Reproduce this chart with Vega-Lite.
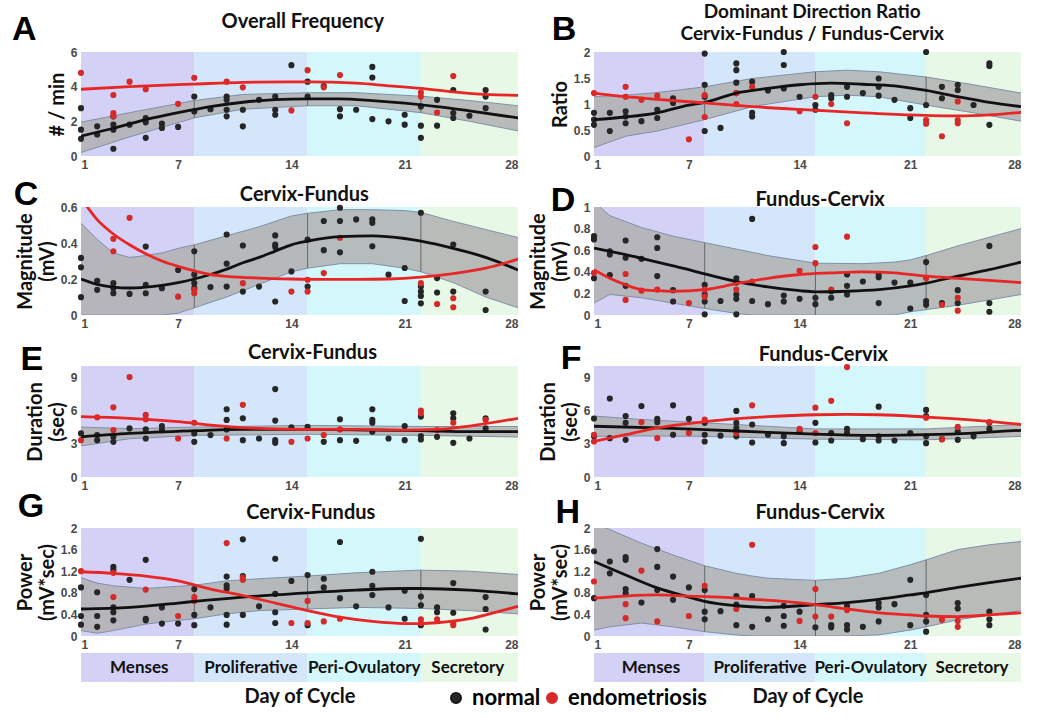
{
"$schema":"https://vega.github.io/schema/vega-lite/v6.json",
"background":"white",
"padding":{"left":12,"top":3,"right":5,"bottom":5},
"bounds":"flush",
"columns":2,
"spacing":{"row":51,"column":76},
"datasets":{
"phases":[
{"phase":"Menses","d":1,"e":8,"m":4.6},
{"phase":"Proliferative","d":8,"e":15,"m":11.5},
{"phase":"Peri-Ovulatory","d":15,"e":22,"m":18.5},
{"phase":"Secretory","d":22,"e":28,"m":24.9}
],
"band":[
{"p":"A","d":1,"lo":0.2,"hi":1.95},{"p":"A","d":4,"lo":1.1,"hi":2.5},{"p":"A","d":8,"lo":2.2,"hi":3.2},{"p":"A","d":11,"lo":2.7,"hi":3.55},{"p":"A","d":15,"lo":2.9,"hi":3.65},{"p":"A","d":18,"lo":2.9,"hi":3.65},{"p":"A","d":22,"lo":2.5,"hi":3.45},{"p":"A","d":25,"lo":2.0,"hi":3.2},{"p":"A","d":28,"lo":1.45,"hi":2.9},
{"p":"B","d":1,"lo":0.16,"hi":1.14},{"p":"B","d":3,"lo":0.38,"hi":1.17},{"p":"B","d":5,"lo":0.48,"hi":1.22},{"p":"B","d":8,"lo":0.7,"hi":1.33},{"p":"B","d":11,"lo":0.95,"hi":1.49},{"p":"B","d":15,"lo":1.14,"hi":1.62},{"p":"B","d":17,"lo":1.17,"hi":1.65},{"p":"B","d":19,"lo":1.14,"hi":1.62},{"p":"B","d":22,"lo":0.98,"hi":1.52},{"p":"B","d":25,"lo":0.83,"hi":1.37},{"p":"B","d":28,"lo":0.67,"hi":1.21},
{"p":"C","d":1,"lo":0,"hi":0.51},{"p":"C","d":2,"lo":0,"hi":0.42},{"p":"C","d":3,"lo":0,"hi":0.345},{"p":"C","d":4,"lo":0,"hi":0.32},{"p":"C","d":5,"lo":0,"hi":0.33},{"p":"C","d":6,"lo":0,"hi":0.345},{"p":"C","d":7,"lo":0.01,"hi":0.37},{"p":"C","d":8,"lo":0.04,"hi":0.39},{"p":"C","d":10,"lo":0.1,"hi":0.44},{"p":"C","d":12,"lo":0.17,"hi":0.49},{"p":"C","d":14,"lo":0.24,"hi":0.55},{"p":"C","d":15,"lo":0.26,"hi":0.565},{"p":"C","d":17,"lo":0.285,"hi":0.585},{"p":"C","d":19,"lo":0.285,"hi":0.585},{"p":"C","d":21,"lo":0.26,"hi":0.58},{"p":"C","d":22,"lo":0.24,"hi":0.57},{"p":"C","d":24,"lo":0.18,"hi":0.52},{"p":"C","d":26,"lo":0.1,"hi":0.475},{"p":"C","d":28,"lo":0.04,"hi":0.43},
{"p":"D","d":1,"lo":0.11,"hi":1.05},{"p":"D","d":2,"lo":0.19,"hi":0.92},{"p":"D","d":4,"lo":0.16,"hi":0.81},{"p":"D","d":6,"lo":0.11,"hi":0.73},{"p":"D","d":8,"lo":0.06,"hi":0.67},{"p":"D","d":10,"lo":0.015,"hi":0.61},{"p":"D","d":11,"lo":0,"hi":0.58},{"p":"D","d":12,"lo":0,"hi":0.55},{"p":"D","d":15,"lo":0,"hi":0.48},{"p":"D","d":18,"lo":0,"hi":0.475},{"p":"D","d":20,"lo":0,"hi":0.49},{"p":"D","d":21,"lo":0.03,"hi":0.51},{"p":"D","d":22,"lo":0.05,"hi":0.55},{"p":"D","d":24,"lo":0.09,"hi":0.64},{"p":"D","d":26,"lo":0.14,"hi":0.72},{"p":"D","d":28,"lo":0.19,"hi":0.8},
{"p":"E","d":1,"lo":2.8,"hi":4.5},{"p":"E","d":4,"lo":3.45,"hi":4.35},{"p":"E","d":8,"lo":3.75,"hi":4.5},{"p":"E","d":15,"lo":3.85,"hi":4.65},{"p":"E","d":22,"lo":3.75,"hi":4.55},{"p":"E","d":28,"lo":3.6,"hi":4.55},
{"p":"F","d":1,"lo":3.66,"hi":5.49},{"p":"F","d":4,"lo":3.7,"hi":5.18},{"p":"F","d":8,"lo":3.66,"hi":4.88},{"p":"F","d":15,"lo":3.41,"hi":4.33},{"p":"F","d":22,"lo":3.35,"hi":4.33},{"p":"F","d":28,"lo":3.66,"hi":4.73},
{"p":"G","d":1,"lo":0.1,"hi":1.08},{"p":"G","d":2,"lo":0.05,"hi":0.98},{"p":"G","d":3,"lo":0.1,"hi":0.93},{"p":"G","d":5,"lo":0.22,"hi":0.88},{"p":"G","d":7,"lo":0.29,"hi":0.92},{"p":"G","d":8,"lo":0.32,"hi":0.94},{"p":"G","d":10,"lo":0.41,"hi":1.02},{"p":"G","d":12,"lo":0.47,"hi":1.06},{"p":"G","d":15,"lo":0.5,"hi":1.11},{"p":"G","d":18,"lo":0.53,"hi":1.17},{"p":"G","d":22,"lo":0.51,"hi":1.22},{"p":"G","d":25,"lo":0.47,"hi":1.2},{"p":"G","d":28,"lo":0.41,"hi":1.14},
{"p":"H","d":1,"lo":0.11,"hi":2.1},{"p":"H","d":2,"lo":0.17,"hi":1.97},{"p":"H","d":4,"lo":0.24,"hi":1.72},{"p":"H","d":6,"lo":0.17,"hi":1.5},{"p":"H","d":8,"lo":0.08,"hi":1.3},{"p":"H","d":10,"lo":0.02,"hi":1.16},{"p":"H","d":11,"lo":0,"hi":1.11},{"p":"H","d":12,"lo":0,"hi":1.07},{"p":"H","d":15,"lo":0,"hi":1.03},{"p":"H","d":17,"lo":0,"hi":1.07},{"p":"H","d":19,"lo":0.02,"hi":1.16},{"p":"H","d":21,"lo":0.11,"hi":1.32},{"p":"H","d":22,"lo":0.17,"hi":1.41},{"p":"H","d":24,"lo":0.3,"hi":1.6},{"p":"H","d":26,"lo":0.39,"hi":1.69},{"p":"H","d":28,"lo":0.47,"hi":1.75}
],
"fit":[
{"p":"A","g":"normal","d":1,"v":1.15},{"p":"A","g":"normal","d":3,"v":1.6},{"p":"A","g":"normal","d":5,"v":2.1},{"p":"A","g":"normal","d":7,"v":2.5},{"p":"A","g":"normal","d":9,"v":2.85},{"p":"A","g":"normal","d":11,"v":3.1},{"p":"A","g":"normal","d":13,"v":3.25},{"p":"A","g":"normal","d":15,"v":3.3},{"p":"A","g":"normal","d":17,"v":3.3},{"p":"A","g":"normal","d":19,"v":3.2},{"p":"A","g":"normal","d":21,"v":3.05},{"p":"A","g":"normal","d":23,"v":2.85},{"p":"A","g":"normal","d":25,"v":2.6},{"p":"A","g":"normal","d":28,"v":2.2},
{"p":"A","g":"endometriosis","d":1,"v":3.85},{"p":"A","g":"endometriosis","d":4,"v":4.0},{"p":"A","g":"endometriosis","d":8,"v":4.15},{"p":"A","g":"endometriosis","d":11,"v":4.25},{"p":"A","g":"endometriosis","d":15,"v":4.28},{"p":"A","g":"endometriosis","d":18,"v":4.2},{"p":"A","g":"endometriosis","d":20,"v":4.05},{"p":"A","g":"endometriosis","d":22,"v":3.9},{"p":"A","g":"endometriosis","d":24,"v":3.7},{"p":"A","g":"endometriosis","d":26,"v":3.55},{"p":"A","g":"endometriosis","d":28,"v":3.5},
{"p":"B","g":"normal","d":1,"v":0.7},{"p":"B","g":"normal","d":3,"v":0.75},{"p":"B","g":"normal","d":5,"v":0.83},{"p":"B","g":"normal","d":7,"v":0.98},{"p":"B","g":"normal","d":8,"v":1.03},{"p":"B","g":"normal","d":10,"v":1.21},{"p":"B","g":"normal","d":12,"v":1.3},{"p":"B","g":"normal","d":14,"v":1.37},{"p":"B","g":"normal","d":16,"v":1.4},{"p":"B","g":"normal","d":18,"v":1.38},{"p":"B","g":"normal","d":20,"v":1.35},{"p":"B","g":"normal","d":22,"v":1.26},{"p":"B","g":"normal","d":24,"v":1.14},{"p":"B","g":"normal","d":26,"v":1.03},{"p":"B","g":"normal","d":28,"v":0.95},
{"p":"B","g":"endometriosis","d":1,"v":1.21},{"p":"B","g":"endometriosis","d":3,"v":1.14},{"p":"B","g":"endometriosis","d":5,"v":1.09},{"p":"B","g":"endometriosis","d":8,"v":1.02},{"p":"B","g":"endometriosis","d":11,"v":0.95},{"p":"B","g":"endometriosis","d":15,"v":0.88},{"p":"B","g":"endometriosis","d":18,"v":0.83},{"p":"B","g":"endometriosis","d":21,"v":0.79},{"p":"B","g":"endometriosis","d":24,"v":0.77},{"p":"B","g":"endometriosis","d":26,"v":0.79},{"p":"B","g":"endometriosis","d":28,"v":0.84},
{"p":"C","g":"normal","d":1,"v":0.2},{"p":"C","g":"normal","d":2,"v":0.17},{"p":"C","g":"normal","d":3,"v":0.155},{"p":"C","g":"normal","d":4,"v":0.15},{"p":"C","g":"normal","d":5,"v":0.155},{"p":"C","g":"normal","d":6,"v":0.165},{"p":"C","g":"normal","d":7,"v":0.18},{"p":"C","g":"normal","d":8,"v":0.2},{"p":"C","g":"normal","d":9,"v":0.225},{"p":"C","g":"normal","d":10,"v":0.255},{"p":"C","g":"normal","d":11,"v":0.29},{"p":"C","g":"normal","d":12,"v":0.32},{"p":"C","g":"normal","d":13,"v":0.355},{"p":"C","g":"normal","d":14,"v":0.39},{"p":"C","g":"normal","d":15,"v":0.41},{"p":"C","g":"normal","d":17,"v":0.435},{"p":"C","g":"normal","d":19,"v":0.44},{"p":"C","g":"normal","d":21,"v":0.425},{"p":"C","g":"normal","d":22,"v":0.41},{"p":"C","g":"normal","d":24,"v":0.37},{"p":"C","g":"normal","d":26,"v":0.32},{"p":"C","g":"normal","d":28,"v":0.25},
{"p":"C","g":"endometriosis","d":1,"v":0.65},{"p":"C","g":"endometriosis","d":2,"v":0.53},{"p":"C","g":"endometriosis","d":3,"v":0.45},{"p":"C","g":"endometriosis","d":4,"v":0.39},{"p":"C","g":"endometriosis","d":5,"v":0.34},{"p":"C","g":"endometriosis","d":6,"v":0.3},{"p":"C","g":"endometriosis","d":7,"v":0.27},{"p":"C","g":"endometriosis","d":8,"v":0.245},{"p":"C","g":"endometriosis","d":9,"v":0.225},{"p":"C","g":"endometriosis","d":10,"v":0.215},{"p":"C","g":"endometriosis","d":12,"v":0.205},{"p":"C","g":"endometriosis","d":14,"v":0.2},{"p":"C","g":"endometriosis","d":16,"v":0.198},{"p":"C","g":"endometriosis","d":18,"v":0.198},{"p":"C","g":"endometriosis","d":20,"v":0.2},{"p":"C","g":"endometriosis","d":22,"v":0.21},{"p":"C","g":"endometriosis","d":24,"v":0.23},{"p":"C","g":"endometriosis","d":26,"v":0.26},{"p":"C","g":"endometriosis","d":28,"v":0.31},
{"p":"D","g":"normal","d":1,"v":0.62},{"p":"D","g":"normal","d":3,"v":0.56},{"p":"D","g":"normal","d":5,"v":0.49},{"p":"D","g":"normal","d":7,"v":0.42},{"p":"D","g":"normal","d":8,"v":0.38},{"p":"D","g":"normal","d":10,"v":0.31},{"p":"D","g":"normal","d":12,"v":0.26},{"p":"D","g":"normal","d":14,"v":0.225},{"p":"D","g":"normal","d":15,"v":0.215},{"p":"D","g":"normal","d":17,"v":0.22},{"p":"D","g":"normal","d":19,"v":0.235},{"p":"D","g":"normal","d":21,"v":0.27},{"p":"D","g":"normal","d":22,"v":0.295},{"p":"D","g":"normal","d":24,"v":0.36},{"p":"D","g":"normal","d":26,"v":0.42},{"p":"D","g":"normal","d":28,"v":0.49},
{"p":"D","g":"endometriosis","d":1,"v":0.42},{"p":"D","g":"endometriosis","d":2,"v":0.34},{"p":"D","g":"endometriosis","d":3,"v":0.28},{"p":"D","g":"endometriosis","d":4,"v":0.235},{"p":"D","g":"endometriosis","d":5,"v":0.225},{"p":"D","g":"endometriosis","d":6,"v":0.22},{"p":"D","g":"endometriosis","d":8,"v":0.235},{"p":"D","g":"endometriosis","d":10,"v":0.29},{"p":"D","g":"endometriosis","d":12,"v":0.34},{"p":"D","g":"endometriosis","d":14,"v":0.375},{"p":"D","g":"endometriosis","d":16,"v":0.39},{"p":"D","g":"endometriosis","d":18,"v":0.4},{"p":"D","g":"endometriosis","d":20,"v":0.39},{"p":"D","g":"endometriosis","d":22,"v":0.36},{"p":"D","g":"endometriosis","d":24,"v":0.34},{"p":"D","g":"endometriosis","d":26,"v":0.32},{"p":"D","g":"endometriosis","d":28,"v":0.3},
{"p":"E","g":"normal","d":1,"v":3.62},{"p":"E","g":"normal","d":4,"v":3.93},{"p":"E","g":"normal","d":8,"v":4.17},{"p":"E","g":"normal","d":11,"v":4.29},{"p":"E","g":"normal","d":15,"v":4.29},{"p":"E","g":"normal","d":19,"v":4.23},{"p":"E","g":"normal","d":22,"v":4.17},{"p":"E","g":"normal","d":25,"v":4.08},{"p":"E","g":"normal","d":28,"v":4.08},
{"p":"E","g":"endometriosis","d":1,"v":5.44},{"p":"E","g":"endometriosis","d":4,"v":5.29},{"p":"E","g":"endometriosis","d":7,"v":4.98},{"p":"E","g":"endometriosis","d":9,"v":4.68},{"p":"E","g":"endometriosis","d":12,"v":4.38},{"p":"E","g":"endometriosis","d":15,"v":4.29},{"p":"E","g":"endometriosis","d":18,"v":4.29},{"p":"E","g":"endometriosis","d":21,"v":4.23},{"p":"E","g":"endometriosis","d":23,"v":4.29},{"p":"E","g":"endometriosis","d":25,"v":4.59},{"p":"E","g":"endometriosis","d":28,"v":5.29},
{"p":"F","g":"normal","d":1,"v":4.57},{"p":"F","g":"normal","d":5,"v":4.42},{"p":"F","g":"normal","d":8,"v":4.27},{"p":"F","g":"normal","d":12,"v":4.02},{"p":"F","g":"normal","d":15,"v":3.87},{"p":"F","g":"normal","d":19,"v":3.75},{"p":"F","g":"normal","d":22,"v":3.81},{"p":"F","g":"normal","d":25,"v":3.96},{"p":"F","g":"normal","d":28,"v":4.21},
{"p":"F","g":"endometriosis","d":1,"v":3.2},{"p":"F","g":"endometriosis","d":3,"v":3.81},{"p":"F","g":"endometriosis","d":5,"v":4.42},{"p":"F","g":"endometriosis","d":7,"v":4.82},{"p":"F","g":"endometriosis","d":9,"v":5.12},{"p":"F","g":"endometriosis","d":12,"v":5.43},{"p":"F","g":"endometriosis","d":15,"v":5.61},{"p":"F","g":"endometriosis","d":17,"v":5.64},{"p":"F","g":"endometriosis","d":19,"v":5.61},{"p":"F","g":"endometriosis","d":22,"v":5.4},{"p":"F","g":"endometriosis","d":25,"v":5.12},{"p":"F","g":"endometriosis","d":28,"v":4.73},
{"p":"G","g":"normal","d":1,"v":0.5},{"p":"G","g":"normal","d":4,"v":0.53},{"p":"G","g":"normal","d":7,"v":0.61},{"p":"G","g":"normal","d":8,"v":0.64},{"p":"G","g":"normal","d":11,"v":0.72},{"p":"G","g":"normal","d":14,"v":0.78},{"p":"G","g":"normal","d":15,"v":0.8},{"p":"G","g":"normal","d":18,"v":0.85},{"p":"G","g":"normal","d":21,"v":0.88},{"p":"G","g":"normal","d":22,"v":0.88},{"p":"G","g":"normal","d":25,"v":0.85},{"p":"G","g":"normal","d":28,"v":0.78},
{"p":"G","g":"endometriosis","d":1,"v":1.19},{"p":"G","g":"endometriosis","d":3,"v":1.16},{"p":"G","g":"endometriosis","d":5,"v":1.11},{"p":"G","g":"endometriosis","d":7,"v":1.02},{"p":"G","g":"endometriosis","d":9,"v":0.87},{"p":"G","g":"endometriosis","d":11,"v":0.75},{"p":"G","g":"endometriosis","d":13,"v":0.61},{"p":"G","g":"endometriosis","d":15,"v":0.47},{"p":"G","g":"endometriosis","d":17,"v":0.35},{"p":"G","g":"endometriosis","d":19,"v":0.27},{"p":"G","g":"endometriosis","d":21,"v":0.23},{"p":"G","g":"endometriosis","d":22,"v":0.23},{"p":"G","g":"endometriosis","d":23,"v":0.245},{"p":"G","g":"endometriosis","d":25,"v":0.32},{"p":"G","g":"endometriosis","d":27,"v":0.47},{"p":"G","g":"endometriosis","d":28,"v":0.55},
{"p":"H","g":"normal","d":1,"v":1.38},{"p":"H","g":"normal","d":3,"v":1.13},{"p":"H","g":"normal","d":5,"v":0.89},{"p":"H","g":"normal","d":7,"v":0.72},{"p":"H","g":"normal","d":8,"v":0.64},{"p":"H","g":"normal","d":10,"v":0.56},{"p":"H","g":"normal","d":12,"v":0.53},{"p":"H","g":"normal","d":14,"v":0.56},{"p":"H","g":"normal","d":15,"v":0.58},{"p":"H","g":"normal","d":17,"v":0.62},{"p":"H","g":"normal","d":19,"v":0.68},{"p":"H","g":"normal","d":21,"v":0.76},{"p":"H","g":"normal","d":22,"v":0.8},{"p":"H","g":"normal","d":24,"v":0.9},{"p":"H","g":"normal","d":26,"v":0.99},{"p":"H","g":"normal","d":28,"v":1.07},
{"p":"H","g":"endometriosis","d":1,"v":0.7},{"p":"H","g":"endometriosis","d":3,"v":0.74},{"p":"H","g":"endometriosis","d":5,"v":0.76},{"p":"H","g":"endometriosis","d":7,"v":0.74},{"p":"H","g":"endometriosis","d":9,"v":0.72},{"p":"H","g":"endometriosis","d":11,"v":0.68},{"p":"H","g":"endometriosis","d":13,"v":0.64},{"p":"H","g":"endometriosis","d":15,"v":0.58},{"p":"H","g":"endometriosis","d":17,"v":0.5},{"p":"H","g":"endometriosis","d":19,"v":0.43},{"p":"H","g":"endometriosis","d":21,"v":0.39},{"p":"H","g":"endometriosis","d":22,"v":0.37},{"p":"H","g":"endometriosis","d":24,"v":0.36},{"p":"H","g":"endometriosis","d":26,"v":0.39},{"p":"H","g":"endometriosis","d":28,"v":0.43}
],
"pts":[
{"p":"A","g":"normal","d":1,"v":2.76},{"p":"A","g":"normal","d":1,"v":1.52},{"p":"A","g":"normal","d":1,"v":0.99},{"p":"A","g":"normal","d":2,"v":1.71},{"p":"A","g":"normal","d":2,"v":1.24},{"p":"A","g":"normal","d":3,"v":2.29},{"p":"A","g":"normal","d":3,"v":1.81},{"p":"A","g":"normal","d":3,"v":1.52},{"p":"A","g":"normal","d":3,"v":0.42},{"p":"A","g":"normal","d":4,"v":1.81},{"p":"A","g":"normal","d":5,"v":2.19},{"p":"A","g":"normal","d":5,"v":1.94},{"p":"A","g":"normal","d":5,"v":1.05},{"p":"A","g":"normal","d":6,"v":1.87},{"p":"A","g":"normal","d":6,"v":1.62},{"p":"A","g":"normal","d":7,"v":1.68},{"p":"A","g":"normal","d":8,"v":3.43},{"p":"A","g":"normal","d":8,"v":2.57},{"p":"A","g":"normal","d":9,"v":2.7},{"p":"A","g":"normal","d":10,"v":3.43},{"p":"A","g":"normal","d":10,"v":3.24},{"p":"A","g":"normal","d":10,"v":2.67},{"p":"A","g":"normal","d":10,"v":2.29},{"p":"A","g":"normal","d":11,"v":2.67},{"p":"A","g":"normal","d":11,"v":1.71},{"p":"A","g":"normal","d":12,"v":3.24},{"p":"A","g":"normal","d":13,"v":3.43},{"p":"A","g":"normal","d":13,"v":2.67},{"p":"A","g":"normal","d":13,"v":2.38},{"p":"A","g":"normal","d":14,"v":5.24},{"p":"A","g":"normal","d":15,"v":4.29},{"p":"A","g":"normal","d":15,"v":3.43},{"p":"A","g":"normal","d":16,"v":4.04},{"p":"A","g":"normal","d":17,"v":2.7},{"p":"A","g":"normal","d":17,"v":2.29},{"p":"A","g":"normal","d":18,"v":2.67},{"p":"A","g":"normal","d":19,"v":5.14},{"p":"A","g":"normal","d":19,"v":4.53},{"p":"A","g":"normal","d":19,"v":2.13},{"p":"A","g":"normal","d":20,"v":2.0},{"p":"A","g":"normal","d":21,"v":2.38},{"p":"A","g":"normal","d":21,"v":1.81},{"p":"A","g":"normal","d":22,"v":2.86},{"p":"A","g":"normal","d":22,"v":1.75},{"p":"A","g":"normal","d":22,"v":1.05},{"p":"A","g":"normal","d":23,"v":3.24},{"p":"A","g":"normal","d":23,"v":1.75},{"p":"A","g":"normal","d":24,"v":3.81},{"p":"A","g":"normal","d":24,"v":2.48},{"p":"A","g":"normal","d":24,"v":2.19},{"p":"A","g":"normal","d":25,"v":2.32},{"p":"A","g":"normal","d":26,"v":3.81},{"p":"A","g":"normal","d":26,"v":3.43},{"p":"A","g":"normal","d":26,"v":2.76},
{"p":"A","g":"endometriosis","d":1,"v":4.8},{"p":"A","g":"endometriosis","d":3,"v":3.52},{"p":"A","g":"endometriosis","d":3,"v":2.48},{"p":"A","g":"endometriosis","d":3,"v":2.29},{"p":"A","g":"endometriosis","d":4,"v":4.29},{"p":"A","g":"endometriosis","d":5,"v":3.85},{"p":"A","g":"endometriosis","d":7,"v":3.01},{"p":"A","g":"endometriosis","d":8,"v":4.51},{"p":"A","g":"endometriosis","d":10,"v":4.29},{"p":"A","g":"endometriosis","d":11,"v":3.96},{"p":"A","g":"endometriosis","d":14,"v":2.63},{"p":"A","g":"endometriosis","d":15,"v":4.95},{"p":"A","g":"endometriosis","d":16,"v":3.96},{"p":"A","g":"endometriosis","d":17,"v":4.67},{"p":"A","g":"endometriosis","d":22,"v":3.66},{"p":"A","g":"endometriosis","d":22,"v":3.43},{"p":"A","g":"endometriosis","d":23,"v":2.51},{"p":"A","g":"endometriosis","d":24,"v":4.61},
{"p":"B","g":"normal","d":1,"v":0.83},{"p":"B","g":"normal","d":1,"v":0.7},{"p":"B","g":"normal","d":1,"v":0.6},{"p":"B","g":"normal","d":2,"v":0.83},{"p":"B","g":"normal","d":2,"v":0.48},{"p":"B","g":"normal","d":3,"v":0.86},{"p":"B","g":"normal","d":3,"v":0.76},{"p":"B","g":"normal","d":3,"v":0.63},{"p":"B","g":"normal","d":4,"v":0.67},{"p":"B","g":"normal","d":5,"v":0.89},{"p":"B","g":"normal","d":5,"v":0.73},{"p":"B","g":"normal","d":6,"v":1.11},{"p":"B","g":"normal","d":6,"v":1.02},{"p":"B","g":"normal","d":8,"v":1.97},{"p":"B","g":"normal","d":8,"v":1.37},{"p":"B","g":"normal","d":8,"v":1.14},{"p":"B","g":"normal","d":8,"v":0.48},{"p":"B","g":"normal","d":9,"v":0.54},{"p":"B","g":"normal","d":10,"v":1.78},{"p":"B","g":"normal","d":10,"v":1.65},{"p":"B","g":"normal","d":10,"v":1.41},{"p":"B","g":"normal","d":10,"v":1.21},{"p":"B","g":"normal","d":11,"v":1.43},{"p":"B","g":"normal","d":11,"v":0.83},{"p":"B","g":"normal","d":11,"v":0.76},{"p":"B","g":"normal","d":12,"v":1.26},{"p":"B","g":"normal","d":13,"v":2.0},{"p":"B","g":"normal","d":13,"v":1.75},{"p":"B","g":"normal","d":13,"v":1.3},{"p":"B","g":"normal","d":14,"v":1.14},{"p":"B","g":"normal","d":15,"v":0.98},{"p":"B","g":"normal","d":15,"v":0.89},{"p":"B","g":"normal","d":16,"v":1.17},{"p":"B","g":"normal","d":16,"v":1.11},{"p":"B","g":"normal","d":17,"v":1.33},{"p":"B","g":"normal","d":17,"v":1.14},{"p":"B","g":"normal","d":18,"v":1.21},{"p":"B","g":"normal","d":19,"v":1.49},{"p":"B","g":"normal","d":19,"v":1.33},{"p":"B","g":"normal","d":19,"v":1.16},{"p":"B","g":"normal","d":20,"v":1.08},{"p":"B","g":"normal","d":21,"v":0.92},{"p":"B","g":"normal","d":21,"v":0.73},{"p":"B","g":"normal","d":22,"v":2.0},{"p":"B","g":"normal","d":22,"v":0.98},{"p":"B","g":"normal","d":23,"v":1.33},{"p":"B","g":"normal","d":23,"v":1.11},{"p":"B","g":"normal","d":24,"v":1.37},{"p":"B","g":"normal","d":24,"v":1.27},{"p":"B","g":"normal","d":25,"v":0.98},{"p":"B","g":"normal","d":26,"v":1.78},{"p":"B","g":"normal","d":26,"v":1.73},{"p":"B","g":"normal","d":26,"v":0.6},
{"p":"B","g":"endometriosis","d":1,"v":1.21},{"p":"B","g":"endometriosis","d":3,"v":1.33},{"p":"B","g":"endometriosis","d":3,"v":1.14},{"p":"B","g":"endometriosis","d":4,"v":1.08},{"p":"B","g":"endometriosis","d":5,"v":1.16},{"p":"B","g":"endometriosis","d":7,"v":0.32},{"p":"B","g":"endometriosis","d":8,"v":1.17},{"p":"B","g":"endometriosis","d":8,"v":0.75},{"p":"B","g":"endometriosis","d":10,"v":1.21},{"p":"B","g":"endometriosis","d":10,"v":1.0},{"p":"B","g":"endometriosis","d":11,"v":1.33},{"p":"B","g":"endometriosis","d":14,"v":0.86},{"p":"B","g":"endometriosis","d":15,"v":1.14},{"p":"B","g":"endometriosis","d":16,"v":1.0},{"p":"B","g":"endometriosis","d":17,"v":0.63},{"p":"B","g":"endometriosis","d":22,"v":0.69},{"p":"B","g":"endometriosis","d":22,"v":0.62},{"p":"B","g":"endometriosis","d":23,"v":0.38},{"p":"B","g":"endometriosis","d":24,"v":1.05},{"p":"B","g":"endometriosis","d":24,"v":0.69},{"p":"B","g":"endometriosis","d":24,"v":0.63},
{"p":"C","g":"normal","d":1,"v":0.317},{"p":"C","g":"normal","d":1,"v":0.265},{"p":"C","g":"normal","d":1,"v":0.099},{"p":"C","g":"normal","d":2,"v":0.19},{"p":"C","g":"normal","d":2,"v":0.14},{"p":"C","g":"normal","d":3,"v":0.177},{"p":"C","g":"normal","d":3,"v":0.149},{"p":"C","g":"normal","d":3,"v":0.121},{"p":"C","g":"normal","d":4,"v":0.117},{"p":"C","g":"normal","d":5,"v":0.38},{"p":"C","g":"normal","d":5,"v":0.168},{"p":"C","g":"normal","d":5,"v":0.121},{"p":"C","g":"normal","d":6,"v":0.149},{"p":"C","g":"normal","d":7,"v":0.25},{"p":"C","g":"normal","d":8,"v":0.354},{"p":"C","g":"normal","d":8,"v":0.224},{"p":"C","g":"normal","d":8,"v":0.177},{"p":"C","g":"normal","d":8,"v":0.149},{"p":"C","g":"normal","d":9,"v":0.155},{"p":"C","g":"normal","d":10,"v":0.447},{"p":"C","g":"normal","d":10,"v":0.285},{"p":"C","g":"normal","d":10,"v":0.158},{"p":"C","g":"normal","d":11,"v":0.386},{"p":"C","g":"normal","d":11,"v":0.13},{"p":"C","g":"normal","d":12,"v":0.158},{"p":"C","g":"normal","d":13,"v":0.442},{"p":"C","g":"normal","d":13,"v":0.391},{"p":"C","g":"normal","d":13,"v":0.378},{"p":"C","g":"normal","d":13,"v":0.075},{"p":"C","g":"normal","d":14,"v":0.242},{"p":"C","g":"normal","d":15,"v":0.419},{"p":"C","g":"normal","d":15,"v":0.158},{"p":"C","g":"normal","d":16,"v":0.522},{"p":"C","g":"normal","d":16,"v":0.36},{"p":"C","g":"normal","d":17,"v":0.596},{"p":"C","g":"normal","d":17,"v":0.522},{"p":"C","g":"normal","d":17,"v":0.348},{"p":"C","g":"normal","d":18,"v":0.531},{"p":"C","g":"normal","d":19,"v":0.531},{"p":"C","g":"normal","d":19,"v":0.512},{"p":"C","g":"normal","d":19,"v":0.382},{"p":"C","g":"normal","d":20,"v":0.224},{"p":"C","g":"normal","d":21,"v":0.261},{"p":"C","g":"normal","d":21,"v":0.078},{"p":"C","g":"normal","d":22,"v":0.568},{"p":"C","g":"normal","d":22,"v":0.158},{"p":"C","g":"normal","d":22,"v":0.13},{"p":"C","g":"normal","d":22,"v":0.106},{"p":"C","g":"normal","d":22,"v":0.065},{"p":"C","g":"normal","d":23,"v":0.205},{"p":"C","g":"normal","d":23,"v":0.125},{"p":"C","g":"normal","d":24,"v":0.391},{"p":"C","g":"normal","d":24,"v":0.13},{"p":"C","g":"normal","d":26,"v":0.13},{"p":"C","g":"normal","d":26,"v":0.028},
{"p":"C","g":"endometriosis","d":3,"v":0.423},{"p":"C","g":"endometriosis","d":3,"v":0.354},{"p":"C","g":"endometriosis","d":4,"v":0.54},{"p":"C","g":"endometriosis","d":7,"v":0.102},{"p":"C","g":"endometriosis","d":8,"v":0.14},{"p":"C","g":"endometriosis","d":8,"v":0.121},{"p":"C","g":"endometriosis","d":11,"v":0.177},{"p":"C","g":"endometriosis","d":14,"v":0.13},{"p":"C","g":"endometriosis","d":15,"v":0.196},{"p":"C","g":"endometriosis","d":15,"v":0.13},{"p":"C","g":"endometriosis","d":16,"v":0.233},{"p":"C","g":"endometriosis","d":17,"v":0.429},{"p":"C","g":"endometriosis","d":22,"v":0.177},{"p":"C","g":"endometriosis","d":23,"v":0.061},{"p":"C","g":"endometriosis","d":24,"v":0.093},{"p":"C","g":"endometriosis","d":24,"v":0.043},
{"p":"D","g":"normal","d":1,"v":0.73},{"p":"D","g":"normal","d":1,"v":0.7},{"p":"D","g":"normal","d":1,"v":0.34},{"p":"D","g":"normal","d":2,"v":0.59},{"p":"D","g":"normal","d":2,"v":0.56},{"p":"D","g":"normal","d":2,"v":0.37},{"p":"D","g":"normal","d":3,"v":0.69},{"p":"D","g":"normal","d":3,"v":0.53},{"p":"D","g":"normal","d":3,"v":0.27},{"p":"D","g":"normal","d":4,"v":0.52},{"p":"D","g":"normal","d":5,"v":0.72},{"p":"D","g":"normal","d":5,"v":0.62},{"p":"D","g":"normal","d":5,"v":0.36},{"p":"D","g":"normal","d":6,"v":0.23},{"p":"D","g":"normal","d":6,"v":0.125},{"p":"D","g":"normal","d":8,"v":0.28},{"p":"D","g":"normal","d":8,"v":0.19},{"p":"D","g":"normal","d":8,"v":0.125},{"p":"D","g":"normal","d":8,"v":0.006},{"p":"D","g":"normal","d":9,"v":0.13},{"p":"D","g":"normal","d":10,"v":0.34},{"p":"D","g":"normal","d":10,"v":0.3},{"p":"D","g":"normal","d":10,"v":0.19},{"p":"D","g":"normal","d":10,"v":0.15},{"p":"D","g":"normal","d":10,"v":0.006},{"p":"D","g":"normal","d":11,"v":0.89},{"p":"D","g":"normal","d":11,"v":0.13},{"p":"D","g":"normal","d":12,"v":0.1},{"p":"D","g":"normal","d":13,"v":0.18},{"p":"D","g":"normal","d":13,"v":0.125},{"p":"D","g":"normal","d":14,"v":0.15},{"p":"D","g":"normal","d":15,"v":0.16},{"p":"D","g":"normal","d":15,"v":0.1},{"p":"D","g":"normal","d":16,"v":0.22},{"p":"D","g":"normal","d":16,"v":0.16},{"p":"D","g":"normal","d":17,"v":0.375},{"p":"D","g":"normal","d":17,"v":0.27},{"p":"D","g":"normal","d":17,"v":0.19},{"p":"D","g":"normal","d":18,"v":0.31},{"p":"D","g":"normal","d":19,"v":0.38},{"p":"D","g":"normal","d":19,"v":0.35},{"p":"D","g":"normal","d":19,"v":0.11},{"p":"D","g":"normal","d":20,"v":0.3},{"p":"D","g":"normal","d":21,"v":0.3},{"p":"D","g":"normal","d":21,"v":0.06},{"p":"D","g":"normal","d":22,"v":0.49},{"p":"D","g":"normal","d":22,"v":0.13},{"p":"D","g":"normal","d":22,"v":0.095},{"p":"D","g":"normal","d":23,"v":0.11},{"p":"D","g":"normal","d":24,"v":0.23},{"p":"D","g":"normal","d":24,"v":0.11},{"p":"D","g":"normal","d":26,"v":0.64},{"p":"D","g":"normal","d":26,"v":0.11},{"p":"D","g":"normal","d":26,"v":0.03},
{"p":"D","g":"endometriosis","d":1,"v":0.39},{"p":"D","g":"endometriosis","d":3,"v":0.38},{"p":"D","g":"endometriosis","d":3,"v":0.14},{"p":"D","g":"endometriosis","d":4,"v":0.225},{"p":"D","g":"endometriosis","d":5,"v":0.235},{"p":"D","g":"endometriosis","d":7,"v":0.11},{"p":"D","g":"endometriosis","d":8,"v":0.235},{"p":"D","g":"endometriosis","d":8,"v":0.17},{"p":"D","g":"endometriosis","d":10,"v":0.235},{"p":"D","g":"endometriosis","d":11,"v":0.31},{"p":"D","g":"endometriosis","d":14,"v":0.41},{"p":"D","g":"endometriosis","d":15,"v":0.63},{"p":"D","g":"endometriosis","d":15,"v":0.48},{"p":"D","g":"endometriosis","d":16,"v":0.235},{"p":"D","g":"endometriosis","d":17,"v":0.725},{"p":"D","g":"endometriosis","d":22,"v":0.34},{"p":"D","g":"endometriosis","d":23,"v":0.095},{"p":"D","g":"endometriosis","d":24,"v":0.16},{"p":"D","g":"endometriosis","d":24,"v":0.04},
{"p":"E","g":"normal","d":1,"v":3.93},{"p":"E","g":"normal","d":2,"v":3.78},{"p":"E","g":"normal","d":2,"v":3.32},{"p":"E","g":"normal","d":3,"v":3.62},{"p":"E","g":"normal","d":3,"v":3.17},{"p":"E","g":"normal","d":4,"v":4.38},{"p":"E","g":"normal","d":5,"v":4.29},{"p":"E","g":"normal","d":5,"v":3.47},{"p":"E","g":"normal","d":6,"v":4.59},{"p":"E","g":"normal","d":6,"v":4.23},{"p":"E","g":"normal","d":8,"v":3.93},{"p":"E","g":"normal","d":8,"v":3.17},{"p":"E","g":"normal","d":9,"v":3.78},{"p":"E","g":"normal","d":10,"v":6.1},{"p":"E","g":"normal","d":10,"v":5.14},{"p":"E","g":"normal","d":10,"v":4.29},{"p":"E","g":"normal","d":11,"v":5.29},{"p":"E","g":"normal","d":11,"v":3.32},{"p":"E","g":"normal","d":12,"v":3.47},{"p":"E","g":"normal","d":13,"v":7.92},{"p":"E","g":"normal","d":13,"v":5.08},{"p":"E","g":"normal","d":13,"v":3.32},{"p":"E","g":"normal","d":13,"v":3.08},{"p":"E","g":"normal","d":14,"v":4.47},{"p":"E","g":"normal","d":15,"v":4.53},{"p":"E","g":"normal","d":16,"v":3.17},{"p":"E","g":"normal","d":17,"v":5.2},{"p":"E","g":"normal","d":17,"v":3.32},{"p":"E","g":"normal","d":18,"v":3.26},{"p":"E","g":"normal","d":19,"v":6.1},{"p":"E","g":"normal","d":19,"v":5.14},{"p":"E","g":"normal","d":19,"v":4.89},{"p":"E","g":"normal","d":19,"v":4.08},{"p":"E","g":"normal","d":20,"v":3.47},{"p":"E","g":"normal","d":21,"v":4.59},{"p":"E","g":"normal","d":21,"v":3.32},{"p":"E","g":"normal","d":22,"v":5.44},{"p":"E","g":"normal","d":22,"v":3.69},{"p":"E","g":"normal","d":22,"v":3.38},{"p":"E","g":"normal","d":23,"v":3.62},{"p":"E","g":"normal","d":24,"v":5.74},{"p":"E","g":"normal","d":24,"v":5.29},{"p":"E","g":"normal","d":24,"v":3.08},{"p":"E","g":"normal","d":25,"v":3.47},{"p":"E","g":"normal","d":26,"v":5.29},{"p":"E","g":"normal","d":26,"v":4.38},
{"p":"E","g":"endometriosis","d":1,"v":3.32},{"p":"E","g":"endometriosis","d":2,"v":5.38},{"p":"E","g":"endometriosis","d":3,"v":6.28},{"p":"E","g":"endometriosis","d":3,"v":4.23},{"p":"E","g":"endometriosis","d":4,"v":9.0},{"p":"E","g":"endometriosis","d":5,"v":5.59},{"p":"E","g":"endometriosis","d":5,"v":5.2},{"p":"E","g":"endometriosis","d":7,"v":3.47},{"p":"E","g":"endometriosis","d":8,"v":4.89},{"p":"E","g":"endometriosis","d":10,"v":3.47},{"p":"E","g":"endometriosis","d":11,"v":6.5},{"p":"E","g":"endometriosis","d":14,"v":3.17},{"p":"E","g":"endometriosis","d":15,"v":3.47},{"p":"E","g":"endometriosis","d":16,"v":3.78},{"p":"E","g":"endometriosis","d":17,"v":4.29},{"p":"E","g":"endometriosis","d":22,"v":5.98},{"p":"E","g":"endometriosis","d":22,"v":5.74},{"p":"E","g":"endometriosis","d":23,"v":4.23},{"p":"E","g":"endometriosis","d":24,"v":4.89},{"p":"E","g":"endometriosis","d":26,"v":5.14},
{"p":"F","g":"normal","d":1,"v":5.27},{"p":"F","g":"normal","d":1,"v":3.66},{"p":"F","g":"normal","d":2,"v":7.07},{"p":"F","g":"normal","d":2,"v":3.5},{"p":"F","g":"normal","d":3,"v":5.49},{"p":"F","g":"normal","d":3,"v":4.88},{"p":"F","g":"normal","d":3,"v":3.35},{"p":"F","g":"normal","d":4,"v":6.4},{"p":"F","g":"normal","d":5,"v":5.24},{"p":"F","g":"normal","d":5,"v":4.94},{"p":"F","g":"normal","d":6,"v":6.46},{"p":"F","g":"normal","d":6,"v":3.81},{"p":"F","g":"normal","d":7,"v":5.24},{"p":"F","g":"normal","d":8,"v":4.88},{"p":"F","g":"normal","d":8,"v":3.81},{"p":"F","g":"normal","d":8,"v":3.2},{"p":"F","g":"normal","d":9,"v":3.72},{"p":"F","g":"normal","d":10,"v":5.95},{"p":"F","g":"normal","d":10,"v":4.88},{"p":"F","g":"normal","d":10,"v":4.42},{"p":"F","g":"normal","d":10,"v":3.66},{"p":"F","g":"normal","d":11,"v":4.73},{"p":"F","g":"normal","d":11,"v":3.11},{"p":"F","g":"normal","d":12,"v":3.81},{"p":"F","g":"normal","d":13,"v":3.66},{"p":"F","g":"normal","d":13,"v":3.05},{"p":"F","g":"normal","d":14,"v":4.12},{"p":"F","g":"normal","d":15,"v":4.88},{"p":"F","g":"normal","d":15,"v":3.11},{"p":"F","g":"normal","d":16,"v":3.96},{"p":"F","g":"normal","d":16,"v":3.29},{"p":"F","g":"normal","d":17,"v":4.33},{"p":"F","g":"normal","d":17,"v":3.96},{"p":"F","g":"normal","d":18,"v":3.41},{"p":"F","g":"normal","d":19,"v":6.34},{"p":"F","g":"normal","d":19,"v":3.66},{"p":"F","g":"normal","d":19,"v":3.29},{"p":"F","g":"normal","d":20,"v":3.29},{"p":"F","g":"normal","d":21,"v":3.96},{"p":"F","g":"normal","d":22,"v":6.04},{"p":"F","g":"normal","d":22,"v":5.49},{"p":"F","g":"normal","d":22,"v":3.66},{"p":"F","g":"normal","d":22,"v":3.05},{"p":"F","g":"normal","d":23,"v":3.41},{"p":"F","g":"normal","d":24,"v":4.12},{"p":"F","g":"normal","d":24,"v":3.35},{"p":"F","g":"normal","d":25,"v":3.66},{"p":"F","g":"normal","d":26,"v":4.88},{"p":"F","g":"normal","d":26,"v":4.33},
{"p":"F","g":"endometriosis","d":1,"v":3.81},{"p":"F","g":"endometriosis","d":1,"v":3.2},{"p":"F","g":"endometriosis","d":4,"v":4.94},{"p":"F","g":"endometriosis","d":5,"v":3.5},{"p":"F","g":"endometriosis","d":7,"v":3.96},{"p":"F","g":"endometriosis","d":8,"v":5.18},{"p":"F","g":"endometriosis","d":10,"v":3.96},{"p":"F","g":"endometriosis","d":11,"v":6.46},{"p":"F","g":"endometriosis","d":14,"v":4.33},{"p":"F","g":"endometriosis","d":15,"v":6.25},{"p":"F","g":"endometriosis","d":15,"v":3.96},{"p":"F","g":"endometriosis","d":16,"v":6.86},{"p":"F","g":"endometriosis","d":17,"v":9.9},{"p":"F","g":"endometriosis","d":22,"v":5.34},{"p":"F","g":"endometriosis","d":23,"v":3.41},{"p":"F","g":"endometriosis","d":24,"v":4.51},{"p":"F","g":"endometriosis","d":26,"v":4.94},
{"p":"G","g":"normal","d":1,"v":0.9},{"p":"G","g":"normal","d":1,"v":0.37},{"p":"G","g":"normal","d":1,"v":0.21},{"p":"G","g":"normal","d":2,"v":0.81},{"p":"G","g":"normal","d":2,"v":0.37},{"p":"G","g":"normal","d":2,"v":0.17},{"p":"G","g":"normal","d":3,"v":1.28},{"p":"G","g":"normal","d":3,"v":1.22},{"p":"G","g":"normal","d":3,"v":0.53},{"p":"G","g":"normal","d":3,"v":0.44},{"p":"G","g":"normal","d":3,"v":0.29},{"p":"G","g":"normal","d":4,"v":1.04},{"p":"G","g":"normal","d":5,"v":1.41},{"p":"G","g":"normal","d":5,"v":0.32},{"p":"G","g":"normal","d":5,"v":0.29},{"p":"G","g":"normal","d":6,"v":0.53},{"p":"G","g":"normal","d":6,"v":0.23},{"p":"G","g":"normal","d":7,"v":0.23},{"p":"G","g":"normal","d":8,"v":0.87},{"p":"G","g":"normal","d":8,"v":0.39},{"p":"G","g":"normal","d":8,"v":0.2},{"p":"G","g":"normal","d":9,"v":0.53},{"p":"G","g":"normal","d":10,"v":1.1},{"p":"G","g":"normal","d":10,"v":0.94},{"p":"G","g":"normal","d":10,"v":0.88},{"p":"G","g":"normal","d":10,"v":0.39},{"p":"G","g":"normal","d":10,"v":0.21},{"p":"G","g":"normal","d":11,"v":1.79},{"p":"G","g":"normal","d":11,"v":1.11},{"p":"G","g":"normal","d":11,"v":0.39},{"p":"G","g":"normal","d":12,"v":0.55},{"p":"G","g":"normal","d":13,"v":1.43},{"p":"G","g":"normal","d":13,"v":0.78},{"p":"G","g":"normal","d":13,"v":0.44},{"p":"G","g":"normal","d":13,"v":0.24},{"p":"G","g":"normal","d":14,"v":1.02},{"p":"G","g":"normal","d":15,"v":1.13},{"p":"G","g":"normal","d":15,"v":0.2},{"p":"G","g":"normal","d":16,"v":1.06},{"p":"G","g":"normal","d":16,"v":0.9},{"p":"G","g":"normal","d":17,"v":1.74},{"p":"G","g":"normal","d":17,"v":0.7},{"p":"G","g":"normal","d":18,"v":0.55},{"p":"G","g":"normal","d":19,"v":1.19},{"p":"G","g":"normal","d":19,"v":0.93},{"p":"G","g":"normal","d":19,"v":0.76},{"p":"G","g":"normal","d":20,"v":0.53},{"p":"G","g":"normal","d":21,"v":0.84},{"p":"G","g":"normal","d":21,"v":0.32},{"p":"G","g":"normal","d":22,"v":1.8},{"p":"G","g":"normal","d":22,"v":0.73},{"p":"G","g":"normal","d":22,"v":0.57},{"p":"G","g":"normal","d":22,"v":0.2},{"p":"G","g":"normal","d":23,"v":0.53},{"p":"G","g":"normal","d":23,"v":0.44},{"p":"G","g":"normal","d":24,"v":0.98},{"p":"G","g":"normal","d":24,"v":0.43},{"p":"G","g":"normal","d":26,"v":0.72},{"p":"G","g":"normal","d":26,"v":0.5},{"p":"G","g":"normal","d":26,"v":0.12},
{"p":"G","g":"endometriosis","d":1,"v":1.2},{"p":"G","g":"endometriosis","d":3,"v":1.17},{"p":"G","g":"endometriosis","d":3,"v":0.72},{"p":"G","g":"endometriosis","d":5,"v":0.86},{"p":"G","g":"endometriosis","d":7,"v":0.37},{"p":"G","g":"endometriosis","d":8,"v":0.72},{"p":"G","g":"endometriosis","d":8,"v":0.65},{"p":"G","g":"endometriosis","d":10,"v":1.72},{"p":"G","g":"endometriosis","d":11,"v":1.08},{"p":"G","g":"endometriosis","d":11,"v":1.04},{"p":"G","g":"endometriosis","d":14,"v":0.24},{"p":"G","g":"endometriosis","d":15,"v":0.65},{"p":"G","g":"endometriosis","d":15,"v":0.24},{"p":"G","g":"endometriosis","d":16,"v":0.27},{"p":"G","g":"endometriosis","d":17,"v":0.32},{"p":"G","g":"endometriosis","d":22,"v":0.31},{"p":"G","g":"endometriosis","d":22,"v":0.24},{"p":"G","g":"endometriosis","d":23,"v":0.31},{"p":"G","g":"endometriosis","d":24,"v":0.24},{"p":"G","g":"endometriosis","d":24,"v":0.2},
{"p":"H","g":"normal","d":1,"v":1.57},{"p":"H","g":"normal","d":1,"v":0.7},{"p":"H","g":"normal","d":2,"v":1.38},{"p":"H","g":"normal","d":2,"v":1.16},{"p":"H","g":"normal","d":3,"v":1.46},{"p":"H","g":"normal","d":3,"v":1.41},{"p":"H","g":"normal","d":3,"v":0.87},{"p":"H","g":"normal","d":3,"v":0.79},{"p":"H","g":"normal","d":4,"v":0.62},{"p":"H","g":"normal","d":5,"v":1.61},{"p":"H","g":"normal","d":5,"v":1.28},{"p":"H","g":"normal","d":5,"v":0.85},{"p":"H","g":"normal","d":6,"v":1.1},{"p":"H","g":"normal","d":6,"v":0.67},{"p":"H","g":"normal","d":7,"v":0.9},{"p":"H","g":"normal","d":8,"v":0.85},{"p":"H","g":"normal","d":8,"v":0.45},{"p":"H","g":"normal","d":8,"v":0.31},{"p":"H","g":"normal","d":9,"v":0.46},{"p":"H","g":"normal","d":10,"v":0.74},{"p":"H","g":"normal","d":10,"v":0.58},{"p":"H","g":"normal","d":10,"v":0.2},{"p":"H","g":"normal","d":11,"v":0.74},{"p":"H","g":"normal","d":11,"v":0.17},{"p":"H","g":"normal","d":12,"v":0.31},{"p":"H","g":"normal","d":13,"v":0.56},{"p":"H","g":"normal","d":13,"v":0.37},{"p":"H","g":"normal","d":13,"v":0.19},{"p":"H","g":"normal","d":14,"v":0.45},{"p":"H","g":"normal","d":15,"v":0.16},{"p":"H","g":"normal","d":16,"v":0.2},{"p":"H","g":"normal","d":16,"v":0.16},{"p":"H","g":"normal","d":17,"v":0.56},{"p":"H","g":"normal","d":17,"v":0.2},{"p":"H","g":"normal","d":17,"v":0.12},{"p":"H","g":"normal","d":18,"v":0.17},{"p":"H","g":"normal","d":19,"v":0.61},{"p":"H","g":"normal","d":19,"v":0.53},{"p":"H","g":"normal","d":19,"v":0.27},{"p":"H","g":"normal","d":20,"v":0.59},{"p":"H","g":"normal","d":21,"v":1.04},{"p":"H","g":"normal","d":21,"v":0.2},{"p":"H","g":"normal","d":22,"v":0.76},{"p":"H","g":"normal","d":22,"v":0.39},{"p":"H","g":"normal","d":22,"v":0.27},{"p":"H","g":"normal","d":22,"v":0.08},{"p":"H","g":"normal","d":24,"v":0.61},{"p":"H","g":"normal","d":24,"v":0.51},{"p":"H","g":"normal","d":26,"v":0.45},{"p":"H","g":"normal","d":26,"v":0.31},{"p":"H","g":"normal","d":26,"v":0.2},
{"p":"H","g":"endometriosis","d":1,"v":1.01},{"p":"H","g":"endometriosis","d":3,"v":0.59},{"p":"H","g":"endometriosis","d":3,"v":0.33},{"p":"H","g":"endometriosis","d":4,"v":1.21},{"p":"H","g":"endometriosis","d":5,"v":0.27},{"p":"H","g":"endometriosis","d":7,"v":0.37},{"p":"H","g":"endometriosis","d":8,"v":0.93},{"p":"H","g":"endometriosis","d":10,"v":0.5},{"p":"H","g":"endometriosis","d":11,"v":1.69},{"p":"H","g":"endometriosis","d":14,"v":0.28},{"p":"H","g":"endometriosis","d":15,"v":0.87},{"p":"H","g":"endometriosis","d":15,"v":0.36},{"p":"H","g":"endometriosis","d":16,"v":0.36},{"p":"H","g":"endometriosis","d":17,"v":0.48},{"p":"H","g":"endometriosis","d":23,"v":0.3},{"p":"H","g":"endometriosis","d":24,"v":0.28},{"p":"H","g":"endometriosis","d":24,"v":0.17}
]
},
"concat":[
{"width":437,"height":104,
"layer":[
{"data":{"name":"phases"},"mark":{"type":"rect"},"encoding":{"x":{"field":"d","type":"quantitative","scale":{"domain":[1,28],"nice":false},"axis":{"values":[1,7,14,21,28],"tickCount":30,"format":"d","title":null,"labelOverlap":false}},"x2":{"field":"e"},"fill":{"field":"phase","type":"nominal","scale":{"domain":["Menses","Proliferative","Peri-Ovulatory","Secretory"],"range":["#d3d1f6","#d4e6fa","#d3f7fa","#e8f8e6"]},"legend":null}}},
{"data":{"name":"band"},"transform":[{"filter":"datum.p==='A'"}],"mark":{"type":"area","color":"#b0b0b0","opacity":0.85,"clip":true},"encoding":{"x":{"field":"d","type":"quantitative"},"y":{"field":"lo","type":"quantitative","scale":{"domain":[0,6],"nice":false},"axis":{"values":[0,2,4,6],"tickCount":30,"format":"~g","title":"# / min","labelOverlap":false}},"y2":{"field":"hi"}}},
{"data":{"name":"band"},"transform":[{"filter":"datum.p==='A'"}],"mark":{"type":"line","color":"#8090a8","strokeWidth":1,"clip":true},"encoding":{"x":{"field":"d","type":"quantitative"},"y":{"field":"lo","type":"quantitative"}}},
{"data":{"name":"band"},"transform":[{"filter":"datum.p==='A'"}],"mark":{"type":"line","color":"#8090a8","strokeWidth":1,"clip":true},"encoding":{"x":{"field":"d","type":"quantitative"},"y":{"field":"hi","type":"quantitative"}}},
{"data":{"name":"band"},"transform":[{"filter":"datum.p==='A' && (datum.d===8 || datum.d===15 || datum.d===22)"}],"mark":{"type":"rule","color":"#666666","strokeWidth":1,"clip":true},"encoding":{"x":{"field":"d","type":"quantitative"},"y":{"field":"lo","type":"quantitative"},"y2":{"field":"hi"}}},
{"data":{"name":"pts"},"transform":[{"filter":"datum.p==='A'"}],"mark":{"type":"point","filled":true,"size":38,"opacity":1},"encoding":{"x":{"field":"d","type":"quantitative"},"y":{"field":"v","type":"quantitative"},"color":{"field":"g","type":"nominal","scale":{"domain":["normal","endometriosis"],"range":["#262626","#d42a2a"]},"legend":{"orient":"none","legendX":364,"legendY":635,"direction":"horizontal","title":null,"symbolType":"circle","symbolSize":110,"labelFont":"Lato","labelFontSize":22,"labelFontWeight":"bold","columnPadding":0,"labelOffset":5,"encode":{"labels":{"update":{"fill":{"signal":"datum.value === 'endometriosis' ? '#e0201e' : '#111111'"},"fontWeight":{"signal":"datum.value === 'endometriosis' ? 'normal' : 'bold'"}}}}}}}},
{"data":{"name":"fit"},"transform":[{"filter":"datum.p==='A'"}],"mark":{"type":"line","strokeWidth":2.8,"interpolate":"monotone","clip":true},"encoding":{"x":{"field":"d","type":"quantitative"},"y":{"field":"v","type":"quantitative"},"stroke":{"field":"g","type":"nominal","scale":{"domain":["normal","endometriosis"],"range":["#111111","#e82626"]},"legend":null}}},
{"data":{"values":[{}]},"mark":{"type":"text","text":"A","font":"Liberation Sans","fontSize":34,"fontWeight":"bold","align":"center","baseline":"alphabetic"},"encoding":{"x":{"datum":-2.5,"type":"quantitative"},"y":{"datum":6.69,"type":"quantitative"}}},
{"data":{"values":[{}]},"mark":{"type":"text","text":"Overall Frequency","font":"Lato","fontSize":20,"fontWeight":"bold","align":"center","baseline":"alphabetic","color":"#111111"},"encoding":{"x":{"datum":14.7,"type":"quantitative"},"y":{"datum":7.38,"type":"quantitative"}}}
]},
{"width":427,"height":104,
"layer":[
{"data":{"name":"phases"},"mark":{"type":"rect"},"encoding":{"x":{"field":"d","type":"quantitative","scale":{"domain":[1,28],"nice":false},"axis":{"values":[1,7,14,21,28],"tickCount":30,"format":"d","title":null,"labelOverlap":false}},"x2":{"field":"e"},"fill":{"field":"phase","type":"nominal","legend":null}}},
{"data":{"name":"band"},"transform":[{"filter":"datum.p==='B'"}],"mark":{"type":"area","color":"#b0b0b0","opacity":0.85,"clip":true},"encoding":{"x":{"field":"d","type":"quantitative"},"y":{"field":"lo","type":"quantitative","scale":{"domain":[0,2],"nice":false},"axis":{"values":[0,0.5,1,1.5,2],"tickCount":30,"format":"~g","title":"Ratio","labelOverlap":false}},"y2":{"field":"hi"}}},
{"data":{"name":"band"},"transform":[{"filter":"datum.p==='B'"}],"mark":{"type":"line","color":"#8090a8","strokeWidth":1,"clip":true},"encoding":{"x":{"field":"d","type":"quantitative"},"y":{"field":"lo","type":"quantitative"}}},
{"data":{"name":"band"},"transform":[{"filter":"datum.p==='B'"}],"mark":{"type":"line","color":"#8090a8","strokeWidth":1,"clip":true},"encoding":{"x":{"field":"d","type":"quantitative"},"y":{"field":"hi","type":"quantitative"}}},
{"data":{"name":"band"},"transform":[{"filter":"datum.p==='B' && (datum.d===8 || datum.d===15 || datum.d===22)"}],"mark":{"type":"rule","color":"#666666","strokeWidth":1,"clip":true},"encoding":{"x":{"field":"d","type":"quantitative"},"y":{"field":"lo","type":"quantitative"},"y2":{"field":"hi"}}},
{"data":{"name":"pts"},"transform":[{"filter":"datum.p==='B'"}],"mark":{"type":"point","filled":true,"size":38,"opacity":1},"encoding":{"x":{"field":"d","type":"quantitative"},"y":{"field":"v","type":"quantitative"},"color":{"field":"g","type":"nominal","legend":null}}},
{"data":{"name":"fit"},"transform":[{"filter":"datum.p==='B'"}],"mark":{"type":"line","strokeWidth":2.8,"interpolate":"monotone","clip":true},"encoding":{"x":{"field":"d","type":"quantitative"},"y":{"field":"v","type":"quantitative"},"stroke":{"field":"g","type":"nominal","legend":null}}},
{"data":{"values":[{}]},"mark":{"type":"text","text":"B","font":"Liberation Sans","fontSize":34,"fontWeight":"bold","align":"center","baseline":"alphabetic"},"encoding":{"x":{"datum":-0.9,"type":"quantitative"},"y":{"datum":2.23,"type":"quantitative"}}},
{"data":{"values":[{}]},"mark":{"type":"text","text":["Dominant Direction Ratio","Cervix-Fundus / Fundus-Cervix"],"lineHeight":22,"font":"Lato","fontSize":19,"fontWeight":"bold","align":"center","baseline":"alphabetic","color":"#111111"},"encoding":{"x":{"datum":14.8,"type":"quantitative"},"y":{"datum":2.65,"type":"quantitative"}}}
]},
{"width":437,"height":108,
"layer":[
{"data":{"name":"phases"},"mark":{"type":"rect"},"encoding":{"x":{"field":"d","type":"quantitative","scale":{"domain":[1,28],"nice":false},"axis":{"values":[1,7,14,21,28],"tickCount":30,"format":"d","title":null,"labelOverlap":false}},"x2":{"field":"e"},"fill":{"field":"phase","type":"nominal","legend":null}}},
{"data":{"name":"band"},"transform":[{"filter":"datum.p==='C'"}],"mark":{"type":"area","color":"#b0b0b0","opacity":0.85,"clip":true},"encoding":{"x":{"field":"d","type":"quantitative"},"y":{"field":"lo","type":"quantitative","scale":{"domain":[0,0.6],"nice":false},"axis":{"values":[0,0.2,0.4,0.6],"tickCount":30,"format":"~g","title":["Magnitude","(mV)"],"labelOverlap":false}},"y2":{"field":"hi"}}},
{"data":{"name":"band"},"transform":[{"filter":"datum.p==='C'"}],"mark":{"type":"line","color":"#8090a8","strokeWidth":1,"clip":true},"encoding":{"x":{"field":"d","type":"quantitative"},"y":{"field":"lo","type":"quantitative"}}},
{"data":{"name":"band"},"transform":[{"filter":"datum.p==='C'"}],"mark":{"type":"line","color":"#8090a8","strokeWidth":1,"clip":true},"encoding":{"x":{"field":"d","type":"quantitative"},"y":{"field":"hi","type":"quantitative"}}},
{"data":{"name":"band"},"transform":[{"filter":"datum.p==='C' && (datum.d===8 || datum.d===15 || datum.d===22)"}],"mark":{"type":"rule","color":"#666666","strokeWidth":1,"clip":true},"encoding":{"x":{"field":"d","type":"quantitative"},"y":{"field":"lo","type":"quantitative"},"y2":{"field":"hi"}}},
{"data":{"name":"pts"},"transform":[{"filter":"datum.p==='C'"}],"mark":{"type":"point","filled":true,"size":38,"opacity":1},"encoding":{"x":{"field":"d","type":"quantitative"},"y":{"field":"v","type":"quantitative"},"color":{"field":"g","type":"nominal","legend":null}}},
{"data":{"name":"fit"},"transform":[{"filter":"datum.p==='C'"}],"mark":{"type":"line","strokeWidth":2.8,"interpolate":"monotone","clip":true},"encoding":{"x":{"field":"d","type":"quantitative"},"y":{"field":"v","type":"quantitative"},"stroke":{"field":"g","type":"nominal","legend":null}}},
{"data":{"values":[{}]},"mark":{"type":"text","text":"C","font":"Liberation Sans","fontSize":34,"fontWeight":"bold","align":"center","baseline":"alphabetic"},"encoding":{"x":{"datum":-2.4,"type":"quantitative"},"y":{"datum":0.611,"type":"quantitative"}}},
{"data":{"values":[{}]},"mark":{"type":"text","text":"Cervix-Fundus","font":"Lato","fontSize":20,"fontWeight":"bold","align":"center","baseline":"alphabetic","color":"#111111"},"encoding":{"x":{"datum":14.8,"type":"quantitative"},"y":{"datum":0.633,"type":"quantitative"}}}
]},
{"width":427,"height":108,
"layer":[
{"data":{"name":"phases"},"mark":{"type":"rect"},"encoding":{"x":{"field":"d","type":"quantitative","scale":{"domain":[1,28],"nice":false},"axis":{"values":[1,7,14,21,28],"tickCount":30,"format":"d","title":null,"labelOverlap":false}},"x2":{"field":"e"},"fill":{"field":"phase","type":"nominal","legend":null}}},
{"data":{"name":"band"},"transform":[{"filter":"datum.p==='D'"}],"mark":{"type":"area","color":"#b0b0b0","opacity":0.85,"clip":true},"encoding":{"x":{"field":"d","type":"quantitative"},"y":{"field":"lo","type":"quantitative","scale":{"domain":[0,1],"nice":false},"axis":{"values":[0,0.2,0.4,0.6,0.8,1],"tickCount":30,"format":"~g","title":["Magnitude","(mV)"],"labelOverlap":false}},"y2":{"field":"hi"}}},
{"data":{"name":"band"},"transform":[{"filter":"datum.p==='D'"}],"mark":{"type":"line","color":"#8090a8","strokeWidth":1,"clip":true},"encoding":{"x":{"field":"d","type":"quantitative"},"y":{"field":"lo","type":"quantitative"}}},
{"data":{"name":"band"},"transform":[{"filter":"datum.p==='D'"}],"mark":{"type":"line","color":"#8090a8","strokeWidth":1,"clip":true},"encoding":{"x":{"field":"d","type":"quantitative"},"y":{"field":"hi","type":"quantitative"}}},
{"data":{"name":"band"},"transform":[{"filter":"datum.p==='D' && (datum.d===8 || datum.d===15 || datum.d===22)"}],"mark":{"type":"rule","color":"#666666","strokeWidth":1,"clip":true},"encoding":{"x":{"field":"d","type":"quantitative"},"y":{"field":"lo","type":"quantitative"},"y2":{"field":"hi"}}},
{"data":{"name":"pts"},"transform":[{"filter":"datum.p==='D'"}],"mark":{"type":"point","filled":true,"size":38,"opacity":1},"encoding":{"x":{"field":"d","type":"quantitative"},"y":{"field":"v","type":"quantitative"},"color":{"field":"g","type":"nominal","legend":null}}},
{"data":{"name":"fit"},"transform":[{"filter":"datum.p==='D'"}],"mark":{"type":"line","strokeWidth":2.8,"interpolate":"monotone","clip":true},"encoding":{"x":{"field":"d","type":"quantitative"},"y":{"field":"v","type":"quantitative"},"stroke":{"field":"g","type":"nominal","legend":null}}},
{"data":{"values":[{}]},"mark":{"type":"text","text":"D","font":"Liberation Sans","fontSize":34,"fontWeight":"bold","align":"center","baseline":"alphabetic"},"encoding":{"x":{"datum":-0.96,"type":"quantitative"},"y":{"datum":0.963,"type":"quantitative"}}},
{"data":{"values":[{}]},"mark":{"type":"text","text":"Fundus-Cervix","font":"Lato","fontSize":20,"fontWeight":"bold","align":"center","baseline":"alphabetic","color":"#111111"},"encoding":{"x":{"datum":15.3,"type":"quantitative"},"y":{"datum":1.01,"type":"quantitative"}}}
]},
{"width":437,"height":111,
"layer":[
{"data":{"name":"phases"},"mark":{"type":"rect"},"encoding":{"x":{"field":"d","type":"quantitative","scale":{"domain":[1,28],"nice":false},"axis":{"values":[1,7,14,21,28],"tickCount":30,"format":"d","title":null,"labelOverlap":false}},"x2":{"field":"e"},"fill":{"field":"phase","type":"nominal","legend":null}}},
{"data":{"name":"band"},"transform":[{"filter":"datum.p==='E'"}],"mark":{"type":"area","color":"#b0b0b0","opacity":0.85,"clip":true},"encoding":{"x":{"field":"d","type":"quantitative"},"y":{"field":"lo","type":"quantitative","scale":{"domain":[0,10],"nice":false},"axis":{"values":[0,3,6,9],"tickCount":30,"format":"~g","title":["Duration","(sec)"],"labelOverlap":false}},"y2":{"field":"hi"}}},
{"data":{"name":"band"},"transform":[{"filter":"datum.p==='E'"}],"mark":{"type":"line","color":"#8090a8","strokeWidth":1,"clip":true},"encoding":{"x":{"field":"d","type":"quantitative"},"y":{"field":"lo","type":"quantitative"}}},
{"data":{"name":"band"},"transform":[{"filter":"datum.p==='E'"}],"mark":{"type":"line","color":"#8090a8","strokeWidth":1,"clip":true},"encoding":{"x":{"field":"d","type":"quantitative"},"y":{"field":"hi","type":"quantitative"}}},
{"data":{"name":"pts"},"transform":[{"filter":"datum.p==='E'"}],"mark":{"type":"point","filled":true,"size":38,"opacity":1},"encoding":{"x":{"field":"d","type":"quantitative"},"y":{"field":"v","type":"quantitative"},"color":{"field":"g","type":"nominal","legend":null}}},
{"data":{"name":"fit"},"transform":[{"filter":"datum.p==='E'"}],"mark":{"type":"line","strokeWidth":2.8,"interpolate":"monotone","clip":true},"encoding":{"x":{"field":"d","type":"quantitative"},"y":{"field":"v","type":"quantitative"},"stroke":{"field":"g","type":"nominal","legend":null}}},
{"data":{"values":[{}]},"mark":{"type":"text","text":"E","font":"Liberation Sans","fontSize":34,"fontWeight":"bold","align":"center","baseline":"alphabetic"},"encoding":{"x":{"datum":-2.03,"type":"quantitative"},"y":{"datum":9.64,"type":"quantitative"}}},
{"data":{"values":[{}]},"mark":{"type":"text","text":"Cervix-Fundus","font":"Lato","fontSize":20,"fontWeight":"bold","align":"center","baseline":"alphabetic","color":"#111111"},"encoding":{"x":{"datum":15.3,"type":"quantitative"},"y":{"datum":10.63,"type":"quantitative"}}}
]},
{"width":427,"height":111,
"layer":[
{"data":{"name":"phases"},"mark":{"type":"rect"},"encoding":{"x":{"field":"d","type":"quantitative","scale":{"domain":[1,28],"nice":false},"axis":{"values":[1,7,14,21,28],"tickCount":30,"format":"d","title":null,"labelOverlap":false}},"x2":{"field":"e"},"fill":{"field":"phase","type":"nominal","legend":null}}},
{"data":{"name":"band"},"transform":[{"filter":"datum.p==='F'"}],"mark":{"type":"area","color":"#b0b0b0","opacity":0.85,"clip":true},"encoding":{"x":{"field":"d","type":"quantitative"},"y":{"field":"lo","type":"quantitative","scale":{"domain":[0,10],"nice":false},"axis":{"values":[0,3,6,9],"tickCount":30,"format":"~g","title":["Duration","(sec)"],"labelOverlap":false}},"y2":{"field":"hi"}}},
{"data":{"name":"band"},"transform":[{"filter":"datum.p==='F'"}],"mark":{"type":"line","color":"#8090a8","strokeWidth":1,"clip":true},"encoding":{"x":{"field":"d","type":"quantitative"},"y":{"field":"lo","type":"quantitative"}}},
{"data":{"name":"band"},"transform":[{"filter":"datum.p==='F'"}],"mark":{"type":"line","color":"#8090a8","strokeWidth":1,"clip":true},"encoding":{"x":{"field":"d","type":"quantitative"},"y":{"field":"hi","type":"quantitative"}}},
{"data":{"name":"pts"},"transform":[{"filter":"datum.p==='F'"}],"mark":{"type":"point","filled":true,"size":38,"opacity":1},"encoding":{"x":{"field":"d","type":"quantitative"},"y":{"field":"v","type":"quantitative"},"color":{"field":"g","type":"nominal","legend":null}}},
{"data":{"name":"fit"},"transform":[{"filter":"datum.p==='F'"}],"mark":{"type":"line","strokeWidth":2.8,"interpolate":"monotone","clip":true},"encoding":{"x":{"field":"d","type":"quantitative"},"y":{"field":"v","type":"quantitative"},"stroke":{"field":"g","type":"nominal","legend":null}}},
{"data":{"values":[{}]},"mark":{"type":"text","text":"F","font":"Liberation Sans","fontSize":34,"fontWeight":"bold","align":"center","baseline":"alphabetic"},"encoding":{"x":{"datum":-0.44,"type":"quantitative"},"y":{"datum":9.73,"type":"quantitative"}}},
{"data":{"values":[{}]},"mark":{"type":"text","text":"Fundus-Cervix","font":"Lato","fontSize":20,"fontWeight":"bold","align":"center","baseline":"alphabetic","color":"#111111"},"encoding":{"x":{"datum":15.5,"type":"quantitative"},"y":{"datum":10.45,"type":"quantitative"}}}
]},
{"width":437,"height":108,
"layer":[
{"data":{"name":"phases"},"mark":{"type":"rect"},"encoding":{"x":{"field":"d","type":"quantitative","scale":{"domain":[1,28],"nice":false},"axis":{"values":[1,7,14,21,28],"tickCount":30,"format":"d","title":"Day of Cycle","titleFontSize":20,"titlePadding":36,"labelOverlap":false}},"x2":{"field":"e"},"fill":{"field":"phase","type":"nominal","legend":null}}},
{"data":{"name":"phases"},"mark":{"type":"rect"},"encoding":{"x":{"field":"d","type":"quantitative"},"x2":{"field":"e"},"y":{"datum":-0.315,"type":"quantitative"},"y2":{"datum":-0.85},"fill":{"field":"phase","type":"nominal","legend":null}}},
{"data":{"name":"phases"},"mark":{"type":"text","font":"Lato","fontSize":17,"fontWeight":"bold","color":"#111111","baseline":"middle","align":"center"},"encoding":{"x":{"field":"m","type":"quantitative"},"y":{"datum":-0.585,"type":"quantitative"},"text":{"field":"phase"}}},
{"data":{"name":"band"},"transform":[{"filter":"datum.p==='G'"}],"mark":{"type":"area","color":"#b0b0b0","opacity":0.85,"clip":true},"encoding":{"x":{"field":"d","type":"quantitative"},"y":{"field":"lo","type":"quantitative","scale":{"domain":[0,2],"nice":false},"axis":{"values":[0,0.4,0.8,1.2,1.6,2],"tickCount":30,"format":"~g","title":["Power","(mV*sec)"],"labelOverlap":false}},"y2":{"field":"hi"}}},
{"data":{"name":"band"},"transform":[{"filter":"datum.p==='G'"}],"mark":{"type":"line","color":"#8090a8","strokeWidth":1,"clip":true},"encoding":{"x":{"field":"d","type":"quantitative"},"y":{"field":"lo","type":"quantitative"}}},
{"data":{"name":"band"},"transform":[{"filter":"datum.p==='G'"}],"mark":{"type":"line","color":"#8090a8","strokeWidth":1,"clip":true},"encoding":{"x":{"field":"d","type":"quantitative"},"y":{"field":"hi","type":"quantitative"}}},
{"data":{"name":"band"},"transform":[{"filter":"datum.p==='G' && (datum.d===8 || datum.d===15 || datum.d===22)"}],"mark":{"type":"rule","color":"#666666","strokeWidth":1,"clip":true},"encoding":{"x":{"field":"d","type":"quantitative"},"y":{"field":"lo","type":"quantitative"},"y2":{"field":"hi"}}},
{"data":{"name":"pts"},"transform":[{"filter":"datum.p==='G'"}],"mark":{"type":"point","filled":true,"size":38,"opacity":1},"encoding":{"x":{"field":"d","type":"quantitative"},"y":{"field":"v","type":"quantitative"},"color":{"field":"g","type":"nominal","legend":null}}},
{"data":{"name":"fit"},"transform":[{"filter":"datum.p==='G'"}],"mark":{"type":"line","strokeWidth":2.8,"interpolate":"monotone","clip":true},"encoding":{"x":{"field":"d","type":"quantitative"},"y":{"field":"v","type":"quantitative"},"stroke":{"field":"g","type":"nominal","legend":null}}},
{"data":{"values":[{}]},"mark":{"type":"text","text":"G","font":"Liberation Sans","fontSize":34,"fontWeight":"bold","align":"center","baseline":"alphabetic"},"encoding":{"x":{"datum":-2.09,"type":"quantitative"},"y":{"datum":2.2,"type":"quantitative"}}},
{"data":{"values":[{}]},"mark":{"type":"text","text":"Cervix-Fundus","font":"Lato","fontSize":20,"fontWeight":"bold","align":"center","baseline":"alphabetic","color":"#111111"},"encoding":{"x":{"datum":15.2,"type":"quantitative"},"y":{"datum":2.167,"type":"quantitative"}}}
]},
{"width":427,"height":108,
"layer":[
{"data":{"name":"phases"},"mark":{"type":"rect"},"encoding":{"x":{"field":"d","type":"quantitative","scale":{"domain":[1,28],"nice":false},"axis":{"values":[1,7,14,21,28],"tickCount":30,"format":"d","title":"Day of Cycle","titleFontSize":20,"titlePadding":36,"labelOverlap":false}},"x2":{"field":"e"},"fill":{"field":"phase","type":"nominal","legend":null}}},
{"data":{"name":"phases"},"mark":{"type":"rect"},"encoding":{"x":{"field":"d","type":"quantitative"},"x2":{"field":"e"},"y":{"datum":-0.315,"type":"quantitative"},"y2":{"datum":-0.85},"fill":{"field":"phase","type":"nominal","legend":null}}},
{"data":{"name":"phases"},"mark":{"type":"text","font":"Lato","fontSize":17,"fontWeight":"bold","color":"#111111","baseline":"middle","align":"center"},"encoding":{"x":{"field":"m","type":"quantitative"},"y":{"datum":-0.585,"type":"quantitative"},"text":{"field":"phase"}}},
{"data":{"name":"band"},"transform":[{"filter":"datum.p==='H'"}],"mark":{"type":"area","color":"#b0b0b0","opacity":0.85,"clip":true},"encoding":{"x":{"field":"d","type":"quantitative"},"y":{"field":"lo","type":"quantitative","scale":{"domain":[0,2],"nice":false},"axis":{"values":[0,0.4,0.8,1.2,1.6,2],"tickCount":30,"format":"~g","title":["Power","(mV*sec)"],"labelOverlap":false}},"y2":{"field":"hi"}}},
{"data":{"name":"band"},"transform":[{"filter":"datum.p==='H'"}],"mark":{"type":"line","color":"#8090a8","strokeWidth":1,"clip":true},"encoding":{"x":{"field":"d","type":"quantitative"},"y":{"field":"lo","type":"quantitative"}}},
{"data":{"name":"band"},"transform":[{"filter":"datum.p==='H'"}],"mark":{"type":"line","color":"#8090a8","strokeWidth":1,"clip":true},"encoding":{"x":{"field":"d","type":"quantitative"},"y":{"field":"hi","type":"quantitative"}}},
{"data":{"name":"band"},"transform":[{"filter":"datum.p==='H' && (datum.d===8 || datum.d===15 || datum.d===22)"}],"mark":{"type":"rule","color":"#666666","strokeWidth":1,"clip":true},"encoding":{"x":{"field":"d","type":"quantitative"},"y":{"field":"lo","type":"quantitative"},"y2":{"field":"hi"}}},
{"data":{"name":"pts"},"transform":[{"filter":"datum.p==='H'"}],"mark":{"type":"point","filled":true,"size":38,"opacity":1},"encoding":{"x":{"field":"d","type":"quantitative"},"y":{"field":"v","type":"quantitative"},"color":{"field":"g","type":"nominal","legend":null}}},
{"data":{"name":"fit"},"transform":[{"filter":"datum.p==='H'"}],"mark":{"type":"line","strokeWidth":2.8,"interpolate":"monotone","clip":true},"encoding":{"x":{"field":"d","type":"quantitative"},"y":{"field":"v","type":"quantitative"},"stroke":{"field":"g","type":"nominal","legend":null}}},
{"data":{"values":[{}]},"mark":{"type":"text","text":"H","font":"Liberation Sans","fontSize":34,"fontWeight":"bold","align":"center","baseline":"alphabetic"},"encoding":{"x":{"datum":-0.65,"type":"quantitative"},"y":{"datum":2.09,"type":"quantitative"}}},
{"data":{"values":[{}]},"mark":{"type":"text","text":"Fundus-Cervix","font":"Lato","fontSize":20,"fontWeight":"bold","align":"center","baseline":"alphabetic","color":"#111111"},"encoding":{"x":{"datum":15.3,"type":"quantitative"},"y":{"datum":2.167,"type":"quantitative"}}}
]}
],
"config":{
"view":{"stroke":null},
"axis":{"labelFont":"Liberation Sans","labelFontSize":12,"labelFontWeight":"bold","labelColor":"#4a4a4a","ticks":false,"domain":false,"grid":false,"titleFont":"Lato","titleFontSize":20,"titleFontWeight":"bold","titleColor":"#111111","labelOverlap":false},
"axisX":{"labelPadding":3},
"axisY":{"labelPadding":4,"titlePadding":3}
}
}
